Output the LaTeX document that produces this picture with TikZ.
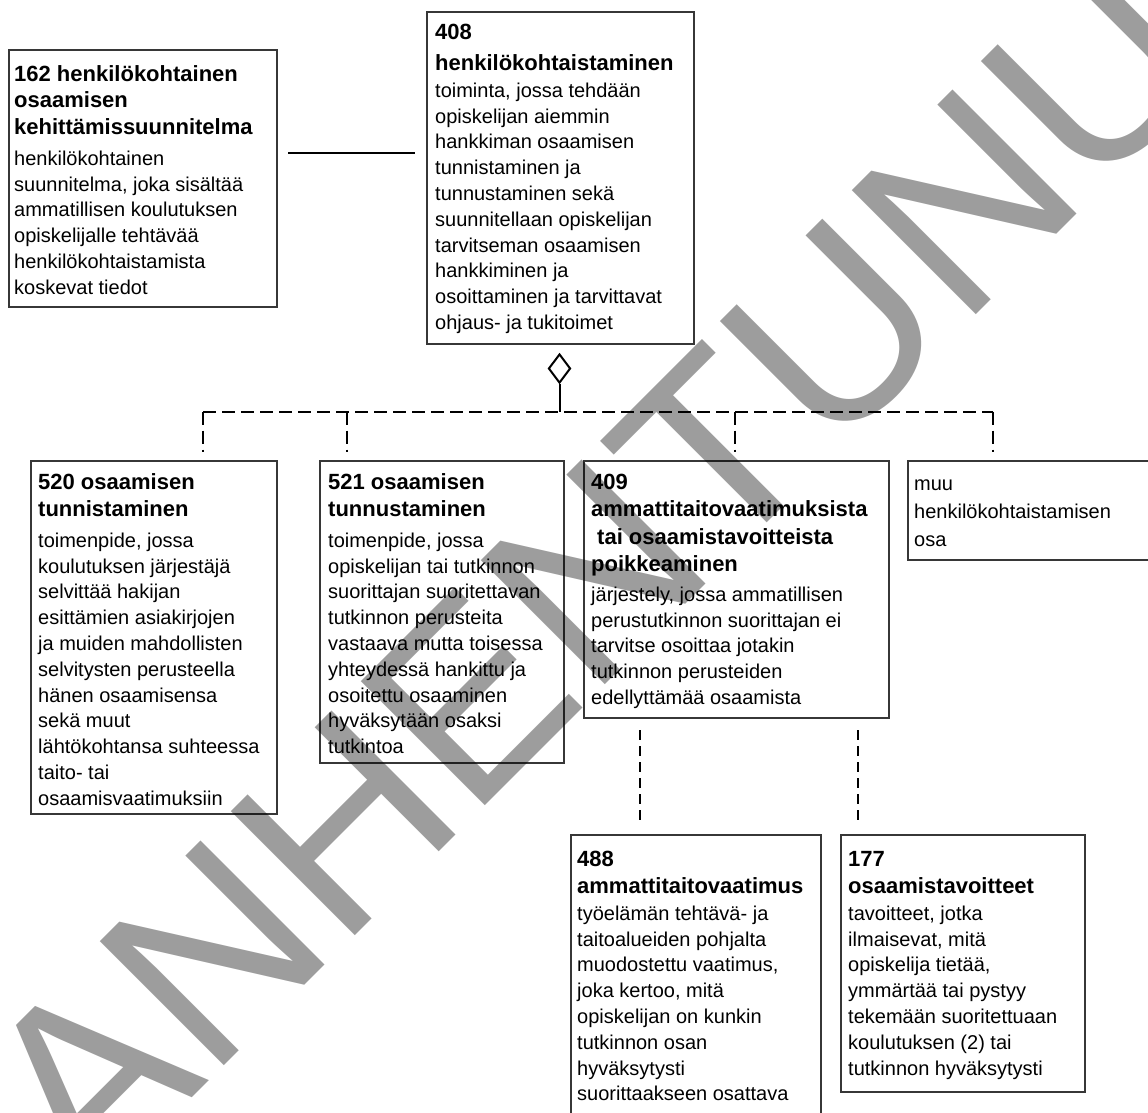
\documentclass[tikz,border=0pt]{standalone}
\usepackage{fontspec}
\setmainfont{Liberation Sans}
\usetikzlibrary{shapes.geometric}
\definecolor{boxline}{RGB}{55,55,55}
\newcommand\B[1]{{\fontsize{22}{25.8}\selectfont\bfseries #1}}
\newcommand\R{\rule{0pt}{20pt}}
\tikzset{
  box/.style={draw=boxline, line width=2pt, anchor=north west, inner sep=0pt},
  txt/.style={anchor=north west, inner sep=0pt, align=left, font=\fontsize{20}{25.8}\selectfont},
  solidline/.style={draw=black, line width=2pt},
  busline/.style={draw=black, line width=2pt, dash pattern=on 13pt off 6pt},
  subline/.style={draw=black, line width=1.6pt, dash pattern=on 10pt off 6pt},
  agg/.style={shape=diamond, draw=black, line width=2pt, inner sep=0pt, minimum width=22pt, minimum height=29pt},
  wmark/.style={inner sep=0pt, text=black, text opacity=0.385, font=\fontsize{255}{255}\selectfont}
}
\begin{document}
\begin{tikzpicture}[x=1pt, y=-1pt]
\useasboundingbox (0,0) rectangle (1148,1112);

% boxes
\node[box, minimum width=268pt, minimum height=257pt] (b162) at (8,49) {};
\node[box, minimum width=267pt, minimum height=332pt] (b408) at (426,11) {};
\node[box, minimum width=246pt, minimum height=353pt] (b520) at (30,460) {};
\node[box, minimum width=244pt, minimum height=302pt] (b521) at (319,460) {};
\node[box, minimum width=305pt, minimum height=257pt] (b409) at (583,460) {};
\node[box, minimum width=250pt, minimum height=99pt] (bmuu) at (907,460) {};
\node[box, minimum width=250pt, minimum height=300pt] (b488) at (570,834) {};
\node[box, minimum width=244pt, minimum height=257pt] (b177) at (840,834) {};

% texts
\node[txt] (t162) at (14,61) {\B{\R162 henkilökohtainen}\\[0.7pt]\B{osaamisen}\\[0.7pt]\B{kehittämissuunnitelma}\\[5.2pt]
henkilökohtainen\\suunnitelma, joka sisältää\\ammatillisen koulutuksen\\opiskelijalle tehtävää\\henkilökohtaistamista\\koskevat tiedot};

\node[txt] (t408) at (435,19) {\B{\R408}\\[5.2pt]\B{henkilökohtaistaminen}\\[1.2pt]
toiminta, jossa tehdään\\opiskelijan aiemmin\\hankkiman osaamisen\\tunnistaminen ja\\tunnustaminen sekä\\suunnitellaan opiskelijan\\tarvitseman osaamisen\\hankkiminen ja\\osoittaminen ja tarvittavat\\ohjaus- ja tukitoimet};

\node[txt] (t520) at (38,469.5) {\B{\R520 osaamisen}\\[0.7pt]\B{tunnistaminen}\\[5.2pt]
toimenpide, jossa\\koulutuksen järjestäjä\\selvittää hakijan\\esittämien asiakirjojen\\ja muiden mahdollisten\\selvitysten perusteella\\hänen osaamisensa\\sekä muut\\lähtökohtansa suhteessa\\taito- tai\\osaamisvaatimuksiin};

\node[txt] (t521) at (328,469.5) {\B{\R521 osaamisen}\\[0.7pt]\B{tunnustaminen}\\[5.2pt]
toimenpide, jossa\\opiskelijan tai tutkinnon\\suorittajan suoritettavan\\tutkinnon perusteita\\vastaava mutta toisessa\\yhteydessä hankittu ja\\osoitettu osaaminen\\hyväksytään osaksi\\tutkintoa};

\node[txt] (t409) at (591,469) {\B{\R409}\\[1.7pt]\B{ammattitaitovaatimuksista}\\[1.7pt]\B{\hspace{6pt}tai osaamistavoitteista}\\[1.7pt]\B{poikkeaminen}\\[3.7pt]
järjestely, jossa ammatillisen\\perustutkinnon suorittajan ei\\tarvitse osoittaa jotakin\\tutkinnon perusteiden\\edellyttämää osaamista};

\node[txt] (tmuu) at (914,470) {\R muu\\[2.2pt]henkilökohtaistamisen\\[2.2pt]osa};

\node[txt] (t488) at (577,846) {\B{\R488}\\[1.2pt]\B{ammattitaitovaatimus}\\[1.2pt]
työelämän tehtävä- ja\\taitoalueiden pohjalta\\muodostettu vaatimus,\\joka kertoo, mitä\\opiskelijan on kunkin\\tutkinnon osan\\hyväksytysti\\suorittaakseen osattava};

\node[txt] (t177) at (848,846) {\B{\R177}\\[1.2pt]\B{osaamistavoitteet}\\[1.2pt]
tavoitteet, jotka\\ilmaisevat, mitä\\opiskelija tietää,\\ymmärtää tai pystyy\\tekemään suoritettuaan\\koulutuksen (2) tai\\tutkinnon hyväksytysti};

% association 162 - 408
\draw[solidline, shorten <=10pt, shorten >=11pt] (b162.east |- 0,153) -- (b408.west |- 0,153);

% aggregation diamond and bus
\node[agg] (dia) at (559.5,368.5) {};
\coordinate (bus) at (559.5,411.5);
\coordinate (j520) at (203,411.5);
\coordinate (j521) at (347,411.5);
\coordinate (j409) at (735,411.5);
\coordinate (jmuu) at (993,411.5);
\draw[solidline] (dia.south) -- (bus);
\draw[busline] (j520) -- (jmuu);
\draw[busline, shorten >=8pt] (j520) -- (j520 |- b520.north);
\draw[busline, shorten >=8pt] (j521) -- (j521 |- b521.north);
\draw[busline, shorten >=8pt] (j409) -- (j409 |- b409.north);
\draw[busline, shorten >=8pt] (jmuu) -- (jmuu |- bmuu.north);

% 409 -> 488, 177
\coordinate (k488) at (640,717);
\coordinate (k177) at (858,717);
\draw[subline, shorten <=13pt, shorten >=8pt] (k488) -- (k488 |- b488.north);
\draw[subline, shorten <=13pt, shorten >=8pt] (k177) -- (k177 |- b177.north);

% watermark
\begin{scope}
\clip (0,0) rectangle (1148,1112);
\node[wmark, rotate=45] (wm) at (596,572) {VANHENTUNUT};
\end{scope}
\end{tikzpicture}
\end{document}
